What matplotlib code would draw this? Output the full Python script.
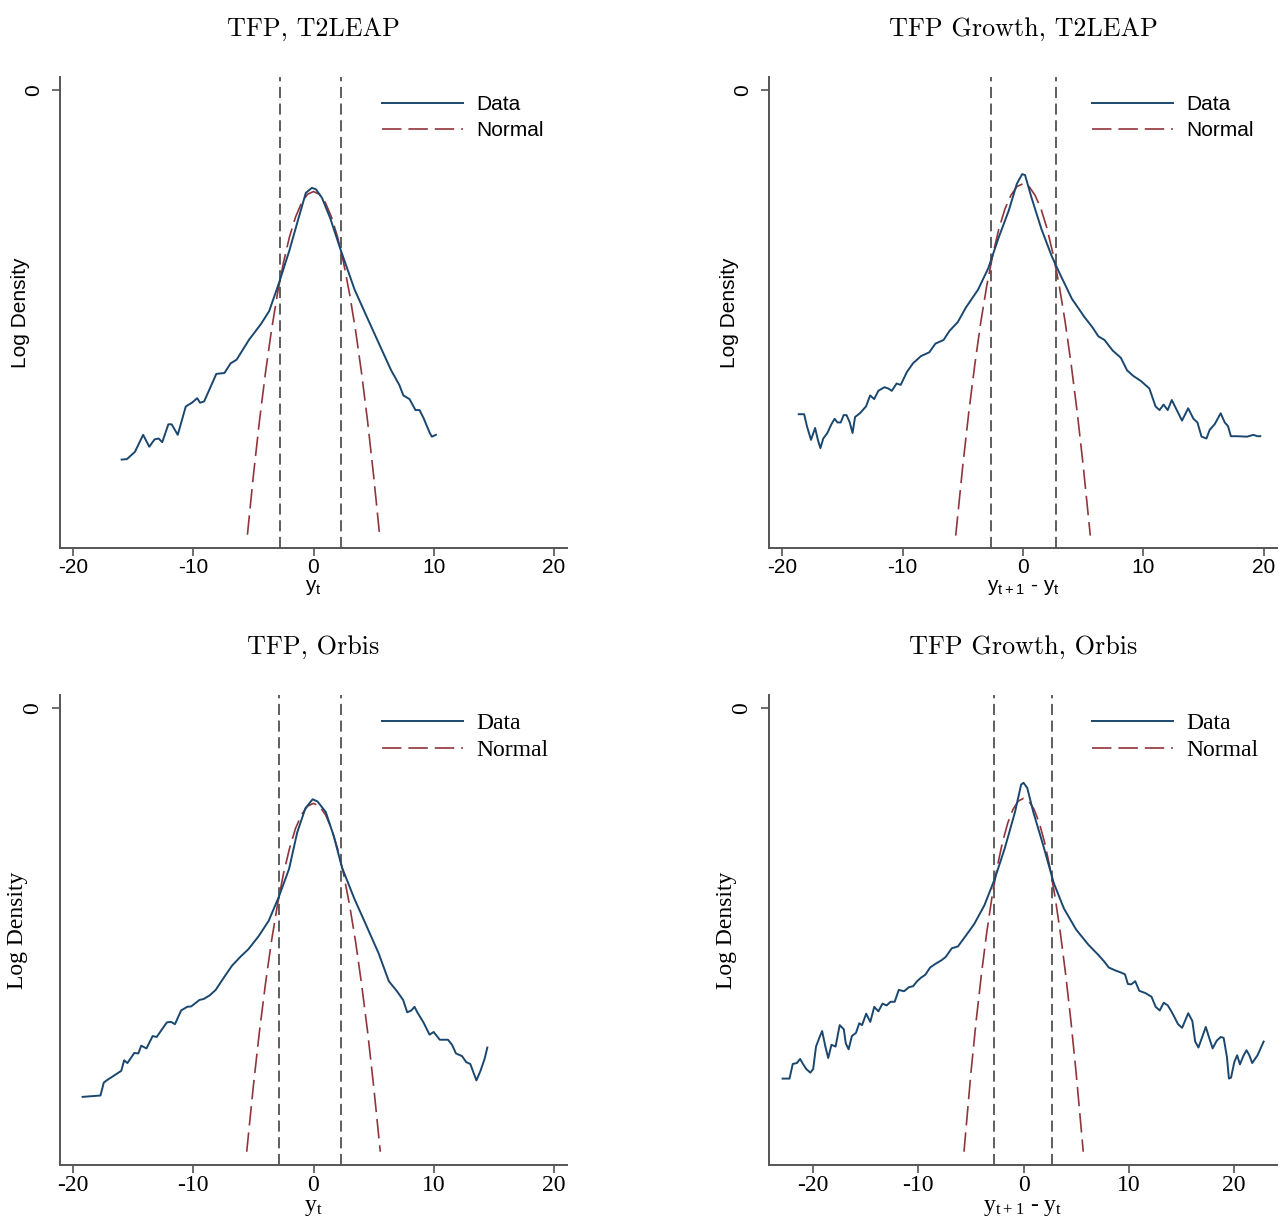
import matplotlib
matplotlib.use("Agg")
import matplotlib.pyplot as plt

plt.rcParams['mathtext.default'] = 'regular'
plt.rcParams['lines.scale_dashes'] = False

# ---- panel text ----
titles = ['TFP, T2LEAP', 'TFP Growth, T2LEAP', 'TFP, Orbis', 'TFP Growth, Orbis']
xlabels = [r'$y_t$', r'$y_{t+1}$ - $y_t$', r'$y_t$', r'$y_{t+1}$ - $y_t$']
xtick_vals = [-20, -10, 0, 10, 20]
xtick_text = ['-20', '-10', '0', '10', '20']

# ---- TFP, T2LEAP ----
tl_x = [-15.97, -15.53, -14.86, -14.18, -13.67, -13.23, -12.89, -12.59, -12.08, -11.81,
        -11.30, -10.63, -10.12, -9.68, -9.44, -9.10, -8.09, -7.41, -6.90, -6.40,
        -5.38, -4.37, -3.69, -2.84, -2.00, -1.32, -0.64, -0.14, 0.20, 0.71,
        1.39, 2.27, 3.42, 4.43, 5.45, 6.46, 7.14, 7.48, 7.99, 8.49,
        8.83, 9.17, 9.68, 9.85, 10.19]
tl_y = [-8.07, -8.06, -7.90, -7.53, -7.79, -7.63, -7.61, -7.69, -7.30, -7.30,
        -7.53, -6.91, -6.83, -6.73, -6.83, -6.80, -6.20, -6.18, -5.97, -5.89,
        -5.46, -5.11, -4.83, -4.19, -3.50, -2.87, -2.25, -2.14, -2.17, -2.36,
        -2.80, -3.50, -4.36, -4.95, -5.54, -6.12, -6.44, -6.67, -6.75, -6.99,
        -6.99, -7.17, -7.49, -7.57, -7.53]
tl_nx = [-5.5, -5.0, -4.5, -4.0, -3.5, -3.0, -2.5, -2.0, -1.5, -1.0, -0.5, 0.0,
         0.5, 1.0, 1.5, 2.0, 2.5, 3.0, 3.5, 4.0, 4.5, 5.0, 5.5]
tl_ny = [-9.71, -8.41, -7.23, -6.18, -5.25, -4.45, -3.77, -3.21, -2.78, -2.47, -2.28, -2.22,
         -2.28, -2.47, -2.78, -3.21, -3.77, -4.45, -5.25, -6.18, -7.23, -8.41, -9.71]
tl_vlines = [-2.81, 2.27]

# ---- TFP Growth, T2LEAP ----
tr_x = [-18.63, -18.18, -17.95, -17.61, -17.27, -17.03, -16.83, -16.59, -16.25, -15.92,
        -15.65, -15.41, -15.14, -14.90, -14.66, -14.39, -14.16, -13.95, -13.55, -13.04,
        -12.70, -12.36, -12.02, -11.51, -11.18, -10.90, -10.50, -10.16, -9.65, -9.14,
        -8.47, -7.79, -7.28, -6.60, -6.10, -5.42, -4.74, -3.73, -2.88, -2.03,
        -1.19, -0.51, -0.07, 0.17, 0.68, 1.52, 2.37, 3.05, 4.06, 5.08,
        5.76, 6.26, 6.77, 7.45, 8.13, 8.64, 9.14, 9.82, 10.50, 11.01,
        11.34, 11.68, 12.02, 12.36, 12.70, 13.21, 13.72, 14.16, 14.49, 14.83,
        15.24, 15.51, 15.92, 16.42, 16.76, 17.03, 17.27, 17.78, 18.62, 19.13,
        19.47, 19.71]
tr_y = [-7.08, -7.08, -7.34, -7.64, -7.38, -7.65, -7.82, -7.61, -7.49, -7.30,
        -7.18, -7.26, -7.26, -7.10, -7.10, -7.26, -7.49, -7.14, -7.06, -6.91,
        -6.67, -6.75, -6.57, -6.49, -6.52, -6.57, -6.41, -6.44, -6.16, -5.97,
        -5.81, -5.73, -5.54, -5.46, -5.26, -5.07, -4.75, -4.36, -3.89, -3.23,
        -2.64, -2.05, -1.84, -1.86, -2.33, -3.03, -3.62, -4.01, -4.56, -4.95,
        -5.18, -5.38, -5.46, -5.69, -5.85, -6.12, -6.24, -6.36, -6.52, -6.91,
        -6.99, -6.87, -6.99, -6.77, -6.95, -7.22, -6.95, -7.18, -7.26, -7.57,
        -7.61, -7.42, -7.30, -7.06, -7.26, -7.34, -7.56, -7.56, -7.57, -7.53,
        -7.56, -7.56]
tr_nx = [-5.59, -5.0, -4.5, -4.0, -3.5, -3.0, -2.5, -2.0, -1.5, -1.0, -0.5, 0.0,
         0.5, 1.0, 1.5, 2.0, 2.5, 3.0, 3.5, 4.0, 4.5, 5.0, 5.59]
tr_ny = [-9.73, -8.20, -7.03, -5.99, -5.06, -4.26, -3.59, -3.03, -2.60, -2.30, -2.11, -2.05,
         -2.11, -2.30, -2.60, -3.03, -3.59, -4.26, -5.06, -5.99, -7.03, -8.20, -9.73]
tr_vlines = [-2.64, 2.71]

# ---- TFP, Orbis ----
bl_x = [-19.22, -17.73, -17.46, -17.22, -16.00, -15.76, -15.49, -14.92, -14.58, -14.34,
        -13.90, -13.39, -13.05, -12.71, -12.20, -11.86, -11.53, -11.02, -10.51, -10.17,
        -9.49, -9.15, -8.64, -8.14, -7.46, -6.78, -6.10, -5.42, -4.58, -3.73,
        -2.88, -2.03, -1.36, -0.68, -0.07, 0.34, 1.02, 1.69, 2.37, 3.39,
        4.41, 5.42, 6.27, 6.95, 7.46, 7.80, 8.14, 8.41, 8.64, 9.15,
        9.66, 10.00, 10.51, 10.85, 11.19, 11.53, 11.86, 12.37, 12.71, 13.05,
        13.56, 13.90, 14.24, 14.47]
bl_y = [-8.51, -8.48, -8.20, -8.15, -7.94, -7.71, -7.77, -7.55, -7.56, -7.39,
        -7.45, -7.18, -7.20, -7.07, -6.88, -6.87, -6.92, -6.62, -6.54, -6.53,
        -6.39, -6.37, -6.29, -6.17, -5.90, -5.64, -5.45, -5.28, -5.00, -4.66,
        -4.13, -3.52, -2.73, -2.20, -2.00, -2.05, -2.28, -2.81, -3.49, -4.17,
        -4.77, -5.37, -5.98, -6.20, -6.39, -6.66, -6.62, -6.54, -6.66, -6.88,
        -7.15, -7.09, -7.26, -7.26, -7.26, -7.37, -7.56, -7.62, -7.75, -7.79,
        -8.15, -7.94, -7.68, -7.43]
bl_nx = [-5.56, -5.0, -4.5, -4.0, -3.5, -3.0, -2.5, -2.0, -1.5, -1.0, -0.5, 0.0,
         0.5, 1.0, 1.5, 2.0, 2.5, 3.0, 3.5, 4.0, 4.5, 5.0, 5.56]
bl_ny = [-9.71, -8.26, -7.08, -6.04, -5.11, -4.31, -3.63, -3.08, -2.64, -2.34, -2.15, -2.09,
         -2.15, -2.34, -2.64, -3.08, -3.63, -4.31, -5.11, -6.04, -7.08, -8.26, -9.71]
bl_vlines = [-2.88, 2.27]

# ---- TFP Growth, Orbis ----
br_x = [-22.91, -22.25, -21.94, -21.55, -21.24, -20.97, -20.66, -20.27, -20.00, -19.73,
        -19.42, -19.15, -18.84, -18.57, -18.26, -17.87, -17.48, -17.09, -16.90, -16.63,
        -16.32, -15.93, -15.62, -15.35, -14.96, -14.57, -14.19, -13.80, -13.41, -13.02,
        -12.64, -12.25, -11.86, -11.36, -10.89, -10.50, -10.12, -9.73, -9.34, -8.88,
        -8.37, -7.79, -7.40, -6.82, -6.24, -5.47, -4.69, -3.72, -2.75, -1.78,
        -0.81, -0.23, 0.00, 0.35, 0.93, 1.90, 2.87, 3.84, 5.00, 6.16,
        7.13, 7.71, 8.10, 8.68, 9.26, 9.65, 9.92, 10.23, 10.62, 11.01,
        11.59, 12.17, 12.56, 12.95, 13.33, 13.72, 14.11, 14.69, 15.08, 15.66,
        16.05, 16.32, 16.63, 17.02, 17.33, 17.60, 17.98, 18.37, 18.76, 19.03,
        19.34, 19.53, 19.73, 20.04, 20.31, 20.58, 20.89, 21.20, 21.47, 21.74,
        22.25, 22.83]
br_y = [-8.11, -8.11, -7.79, -7.77, -7.68, -7.79, -7.90, -7.98, -7.90, -7.41,
        -7.22, -7.07, -7.41, -7.66, -7.37, -7.41, -6.94, -7.03, -7.34, -7.47,
        -7.18, -7.11, -6.90, -6.94, -6.69, -6.87, -6.54, -6.64, -6.47, -6.51,
        -6.43, -6.43, -6.17, -6.20, -6.11, -6.09, -5.98, -5.90, -5.84, -5.68,
        -5.60, -5.52, -5.45, -5.26, -5.22, -4.98, -4.73, -4.32, -3.75, -3.07,
        -2.28, -1.68, -1.64, -1.75, -2.28, -3.03, -3.83, -4.39, -4.85, -5.18,
        -5.41, -5.56, -5.68, -5.74, -5.79, -5.83, -6.04, -6.05, -5.98, -6.19,
        -6.24, -6.32, -6.54, -6.62, -6.45, -6.51, -6.66, -6.92, -7.00, -6.68,
        -6.85, -7.30, -7.43, -7.18, -6.98, -7.18, -7.45, -7.28, -7.20, -7.22,
        -7.64, -8.11, -8.09, -7.75, -7.60, -7.80, -7.62, -7.49, -7.60, -7.77,
        -7.60, -7.30]
br_nx = [-5.66, -5.0, -4.5, -4.0, -3.5, -3.0, -2.5, -2.0, -1.5, -1.0, -0.5, 0.0,
         0.5, 1.0, 1.5, 2.0, 2.5, 3.0, 3.5, 4.0, 4.5, 5.0, 5.68]
br_ny = [-9.71, -7.98, -6.84, -5.82, -4.92, -4.14, -3.48, -2.94, -2.52, -2.22, -2.04, -1.98,
         -2.04, -2.22, -2.52, -2.94, -3.48, -4.14, -4.92, -5.82, -6.84, -7.98, -9.71]
br_vlines = [-2.78, 2.75]

data_x = [tl_x, tr_x, bl_x, br_x]
data_y = [tl_y, tr_y, bl_y, br_y]
norm_x = [tl_nx, tr_nx, bl_nx, br_nx]
norm_y = [tl_ny, tr_ny, bl_ny, br_ny]
vlines = [tl_vlines, tr_vlines, bl_vlines, br_vlines]
xlims = [(-21.1, 21.1), (-21.1, 21.1), (-21.1, 21.1), (-24.2, 24.1)]

# axes rectangles in figure pixels: left, top, right, bottom
W, H = 1279, 1220
boxes = [(60, 77, 567, 548), (769, 77, 1277, 548),
         (60, 695, 567, 1165), (769, 695, 1277, 1165)]
# top row uses a sans face, bottom row a serif face
families = ['Liberation Sans', 'Liberation Sans', 'Liberation Serif', 'Liberation Serif']
sizes = [15, 15, 17, 17]
spacing = [0.35, 0.35, 0.22, 0.22]

fig = plt.figure(figsize=(W / 100, H / 100), dpi=100)
axis_col = '#555555'

for i in range(4):
    l, t, r, b = boxes[i]
    ax = fig.add_axes([l / W, 1 - b / H, (r - l) / W, (b - t) / H])
    fam = families[i]
    fs = sizes[i]

    for xv in vlines[i]:
        ax.axvline(xv, color='#333333', lw=1.1, dashes=(8, 4), zorder=1)
    ax.plot(data_x[i], data_y[i], color='#1a476f', lw=1.4, label='Data', zorder=3)
    ax.plot(norm_x[i], norm_y[i], color='#90353b', lw=1.2, dashes=(14, 5),
            label='Normal', zorder=2)

    ax.set_xlim(*xlims[i])
    ax.set_ylim(-10, 0.28)
    ax.set_xticks(xtick_vals)
    ax.set_xticklabels(xtick_text, fontfamily=fam, fontsize=fs)
    ax.set_yticks([0])
    ax.set_yticklabels(['0'], fontfamily=fam, fontsize=fs, rotation=90, va='center')
    ax.tick_params(length=6, width=1.2, color=axis_col)
    ax.tick_params(axis='x', pad=1)
    ax.tick_params(axis='y', pad=6)

    for s in ['top', 'right']:
        ax.spines[s].set_visible(False)
    for s in ['left', 'bottom']:
        ax.spines[s].set_color(axis_col)
        ax.spines[s].set_linewidth(1.4)

    ax.set_xlabel(xlabels[i], fontfamily=fam, fontsize=fs, labelpad=1)
    ax.set_ylabel('Log Density', fontfamily=fam, fontsize=fs, labelpad=-4)
    ax.set_title(titles[i], fontfamily='cmr10', fontsize=18.8, pad=30)

    ax.legend(loc='upper left', bbox_to_anchor=(0.635, 0.962), frameon=False,
              prop={'family': fam, 'size': fs}, handlelength=3.9 * 15 / fs,
              handletextpad=0.65 * 15 / fs, borderpad=0, borderaxespad=0,
              labelspacing=spacing[i])

fig.savefig('out.png', dpi=100)
